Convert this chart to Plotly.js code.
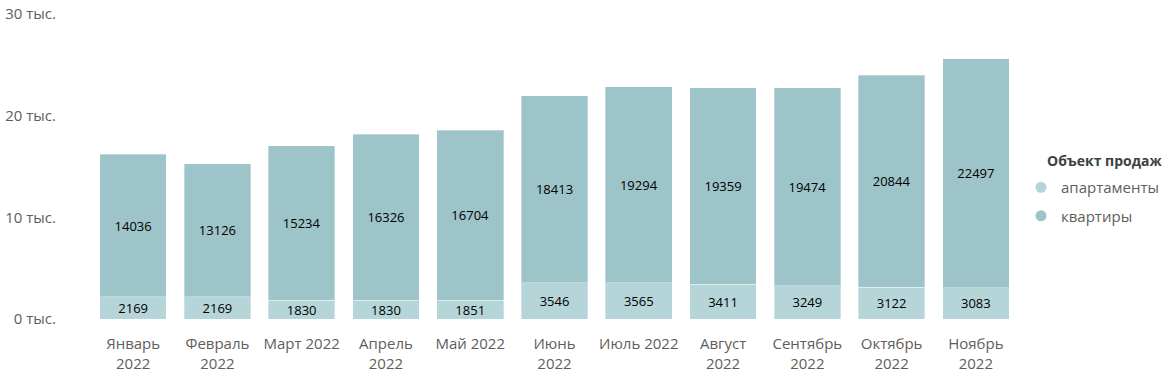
<!DOCTYPE html>
<html>
<head>
<meta charset="utf-8">
<script src="https://cdn.plot.ly/plotly-3.0.1.min.js"></script>
<style>html,body{margin:0;padding:0;background:#fff;}#chart{width:1168px;height:377px;}</style>
</head>
<body>
<div id="chart"></div>
<script>
const categories = ["Январь<br>2022","Февраль<br>2022","Март 2022","Апрель<br>2022","Май 2022","Июнь<br>2022","Июль 2022","Август<br>2022","Сентябрь<br>2022","Октябрь<br>2022","Ноябрь<br>2022"];
const apartments = [2169,2169,1830,1830,1851,3546,3565,3411,3249,3122,3083];
const flats = [14036,13126,15234,16326,16704,18413,19294,19359,19474,20844,22497];
const yTickVals = [0,10000,20000,30000];
const yTickText = ["0 тыс.","10 тыс.","20 тыс.","30 тыс."];
const seriesNames = ["апартаменты","квартиры"];
const legendTitle = "Объект продаж";
const colors = ["#B5D5D8","#9DC4C9"];
const FONT = "Open Sans, Segoe UI, sans-serif";

function barTrace(vals, name, color) {
  return {
    type: "bar",
    x: categories,
    y: vals,
    text: vals.map(String),
    name: name,
    textposition: "inside",
    insidetextanchor: "middle",
    textangle: 0,
    constraintext: "none",
    textfont: {family: FONT, size: 13, color: "#000"},
    showlegend: false,
    hoverinfo: "skip",
    marker: {color: color, line: {width: 1, color: "rgba(255,255,255,0.35)"}}
  };
}
const traces = [
  barTrace(apartments, seriesNames[0], colors[0]),
  barTrace(flats, seriesNames[1], colors[1]),
  {type: "scatter", mode: "markers", x: [null], y: [null], name: seriesNames[0], legendgroup: "a", marker: {symbol: "circle", size: 11, color: colors[0]}, showlegend: true},
  {type: "scatter", mode: "markers", x: [null], y: [null], name: seriesNames[1], legendgroup: "b", marker: {symbol: "circle", size: 11, color: colors[1]}, showlegend: true}
];

const W = 1168, H = 377;
const PL = 91, PR = 150, PT = 14, PB = 58;
const plotW = W - PL - PR, plotH = H - PT - PB;

const layout = {
  width: W, height: H,
  barmode: "stack",
  bargap: 0.21,
  paper_bgcolor: "#fff", plot_bgcolor: "#fff",
  margin: {l: PL, r: PR, t: PT, b: PB, autoexpand: false},
  font: {family: FONT, color: "#605E5C", size: 15},
  xaxis: {
    type: "category",
    showgrid: false, zeroline: false, showline: false,
    ticks: "outside", ticklen: 11, tickcolor: "rgba(0,0,0,0)",
    tickfont: {family: FONT, size: 15, color: "#605E5C"},
    tickangle: 0
  },
  yaxis: {
    range: [0, 30000],
    tickvals: yTickVals, ticktext: yTickText,
    showgrid: false, zeroline: false, showline: false,
    ticks: "outside", ticklen: 31, tickcolor: "rgba(0,0,0,0)",
    tickfont: {family: FONT, size: 15, color: "#605E5C"}
  },
  legend: {
    xref: "container", yref: "container",
    x: 1021 / W, xanchor: "left",
    y: 1 - 171 / H, yanchor: "top",
    font: {family: FONT, size: 15, color: "#605E5C"},
    tracegroupgap: 6,
    itemwidth: 30
  },
  annotations: [{
    text: "<b>" + legendTitle + "</b>",
    xref: "paper", yref: "paper",
    x: 1 + (1045 - (W - PR)) / plotW, xanchor: "left",
    y: (H - PB - 160) / plotH, yanchor: "middle",
    showarrow: false,
    font: {family: FONT, size: 14, color: "#404040"}
  }],
  showlegend: true
};
Plotly.newPlot("chart", traces, layout, {displayModeBar: false, staticPlot: true});
</script>
</body>
</html>
